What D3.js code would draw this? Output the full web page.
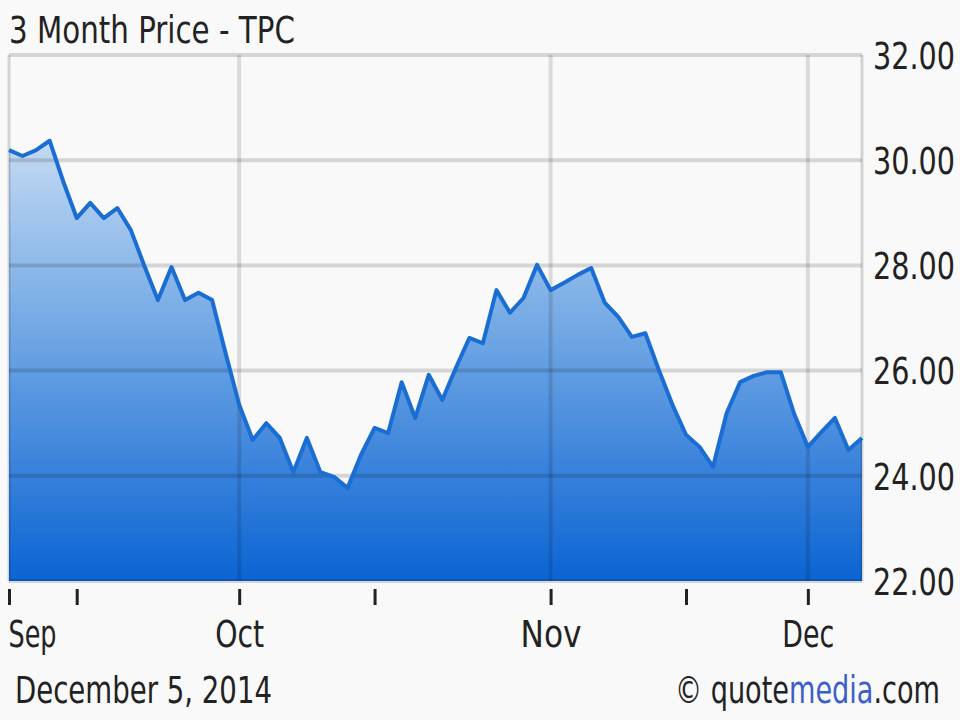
<!DOCTYPE html>
<html><head><meta charset="utf-8">
<script src="https://cdn.jsdelivr.net/npm/d3@7"></script>
<style>html,body{margin:0;padding:0;background:#f9f9f9;}svg{display:block;}</style>
</head><body>
<svg id="c" width="960" height="720"></svg>
<script>
const dates = [
 "2014-09-08","2014-09-09","2014-09-10","2014-09-11","2014-09-12",
 "2014-09-15","2014-09-16","2014-09-17","2014-09-18","2014-09-19",
 "2014-09-22","2014-09-23","2014-09-24","2014-09-25","2014-09-26",
 "2014-09-29","2014-09-30",
 "2014-10-01","2014-10-02","2014-10-03","2014-10-06","2014-10-07",
 "2014-10-08","2014-10-09","2014-10-10","2014-10-13","2014-10-14",
 "2014-10-15","2014-10-16","2014-10-17","2014-10-20","2014-10-21",
 "2014-10-22","2014-10-23","2014-10-24","2014-10-27","2014-10-28",
 "2014-10-29","2014-10-30","2014-10-31",
 "2014-11-03","2014-11-04","2014-11-05","2014-11-06","2014-11-07",
 "2014-11-10","2014-11-11","2014-11-12","2014-11-13","2014-11-14",
 "2014-11-17","2014-11-18","2014-11-19","2014-11-20","2014-11-21",
 "2014-11-24","2014-11-25","2014-11-26","2014-11-28",
 "2014-12-01","2014-12-02","2014-12-03","2014-12-04","2014-12-05"
];
const prices = [
 30.19,30.08,30.19,30.37,29.60,
 28.90,29.19,28.90,29.09,28.67,
 27.99,27.34,27.97,27.34,27.48,
 27.34,26.33,
 25.35,24.68,25.00,24.72,24.07,
 24.72,24.07,23.98,23.77,24.40,
 24.91,24.81,25.78,25.10,25.92,
 25.44,26.05,26.62,26.52,27.53,
 27.10,27.38,28.01,
 27.53,27.67,27.82,27.95,27.29,
 27.02,26.64,26.71,26.01,25.35,
 24.78,24.55,24.17,25.19,25.78,
 25.90,25.97,25.97,25.17,
 24.55,24.83,25.10,24.49,24.72
];
const yTicks = [22,24,26,28,30,32];
const xTickDates = ["2014-09-08","2014-09-15","2014-10-01","2014-10-15","2014-11-03","2014-11-17","2014-12-01"];
const xTickLabels = {"2014-09-08":"Sep","2014-10-01":"Oct","2014-11-03":"Nov","2014-12-01":"Dec"};
const title = "3 Month Price - TPC";
const dateLabel = "December 5, 2014";

const data = dates.map((d,i)=>({d, v:prices[i]}));
const L=9, R=862, T=55, B=581;
const svg = d3.select("#c");
const x = d3.scalePoint().domain(dates).range([L,R]);
const y = d3.scaleLinear().domain([22,32]).range([B,T]);
const font = "'DejaVu Sans Condensed','DejaVu Sans',sans-serif";
const FS = 37;

// squeeze a text horizontally to a target width using a transform
function squeeze(node, w){
  const nat = node.getComputedTextLength();
  const sx = Math.min(1, w/nat);
  const ox = +(node.getAttribute("x")||0);
  const oy = +(node.getAttribute("y")||0);
  node.setAttribute("x",0); node.setAttribute("y",0);
  node.setAttribute("transform",`translate(${ox},${oy}) scale(${sx},1)`);
}

const defs = svg.append("defs");
const g = defs.append("linearGradient").attr("id","fillg")
  .attr("gradientUnits","userSpaceOnUse").attr("x1",0).attr("x2",0).attr("y1",T).attr("y2",B);
g.append("stop").attr("offset","0%").attr("stop-color","#eaf1fa");
g.append("stop").attr("offset","45%").attr("stop-color","#82b2e7");
g.append("stop").attr("offset","100%").attr("stop-color","#0b64d3");

svg.append("rect").attr("x",L).attr("y",T).attr("width",R-L).attr("height",B-T).attr("fill","#f9f9f9");

svg.append("path").datum(data)
  .attr("d", d3.area().x(d=>x(d.d)).y0(B).y1(d=>y(d.v)))
  .attr("fill","url(#fillg)");

const grid = svg.append("g");
grid.selectAll("line.h").data(yTicks).join("line")
  .attr("x1",L).attr("x2",R).attr("y1",d=>y(d)).attr("y2",d=>y(d))
  .attr("stroke","rgba(0,0,0,0.14)").attr("stroke-width",4);
grid.selectAll("line.v").data(Object.keys(xTickLabels).slice(1)).join("line")
  .attr("x1",d=>x(d)).attr("x2",d=>x(d)).attr("y1",T).attr("y2",B)
  .attr("stroke","rgba(0,0,0,0.12)").attr("stroke-width",4);
svg.append("line").attr("x1",L).attr("x2",L).attr("y1",T).attr("y2",B).attr("stroke","rgba(0,0,0,0.15)").attr("stroke-width",3);
svg.append("line").attr("x1",R).attr("x2",R).attr("y1",T).attr("y2",B).attr("stroke","rgba(0,0,0,0.15)").attr("stroke-width",3);

svg.append("path").datum(data)
  .attr("d", d3.line().x(d=>x(d.d)).y(d=>y(d.v)))
  .attr("fill","none").attr("stroke","#1a6dd2").attr("stroke-width",4).attr("stroke-linejoin","round");

const yAxis = d3.axisRight(y).tickValues(yTicks).tickSize(0).tickPadding(11).tickFormat(d3.format(".2f"));
const ya = svg.append("g").attr("transform",`translate(${R},0)`).call(yAxis);
ya.select(".domain").remove();
ya.selectAll("text").attr("font-family",font).attr("font-size",FS).attr("fill","#222").attr("dy","0.36em")
  .each(function(){ squeeze(this, 82); });

const labelW = {"Sep":48,"Oct":49,"Nov":61,"Dec":52};
const xAxis = d3.axisBottom(x).tickValues(xTickDates).tickSize(16).tickPadding(16).tickFormat(d=>xTickLabels[d]||"");
const xa = svg.append("g").attr("transform",`translate(0,${B+8})`).call(xAxis);
xa.select(".domain").remove();
xa.selectAll("line").attr("stroke","#222").attr("stroke-width",3);
xa.selectAll("text").attr("font-family",font).attr("font-size",FS).attr("fill","#222")
  .attr("text-anchor",d=>d===dates[0]?"start":"middle")
  .attr("x",d=>d===dates[0]?-1:0)
  .each(function(d){ const t=xTickLabels[d]; if(t){ squeeze(this, labelW[t]); } });

const tt = svg.append("text").attr("x",9).attr("y",43).text(title)
  .attr("font-family",font).attr("font-size",FS).attr("fill","#222");
squeeze(tt.node(), 286);

const dl = svg.append("text").attr("x",15).attr("y",703).text(dateLabel)
  .attr("font-family",font).attr("font-size",FS).attr("fill","#222");
squeeze(dl.node(), 257);

const cr = svg.append("text").attr("x",675).attr("y",703)
  .attr("font-family",font).attr("font-size",FS).attr("fill","#222");
cr.append("tspan").text("© quote");
cr.append("tspan").text("media").attr("fill","#3b5fc8");
cr.append("tspan").text(".com");
squeeze(cr.node(), 265);
</script>
</body></html>
